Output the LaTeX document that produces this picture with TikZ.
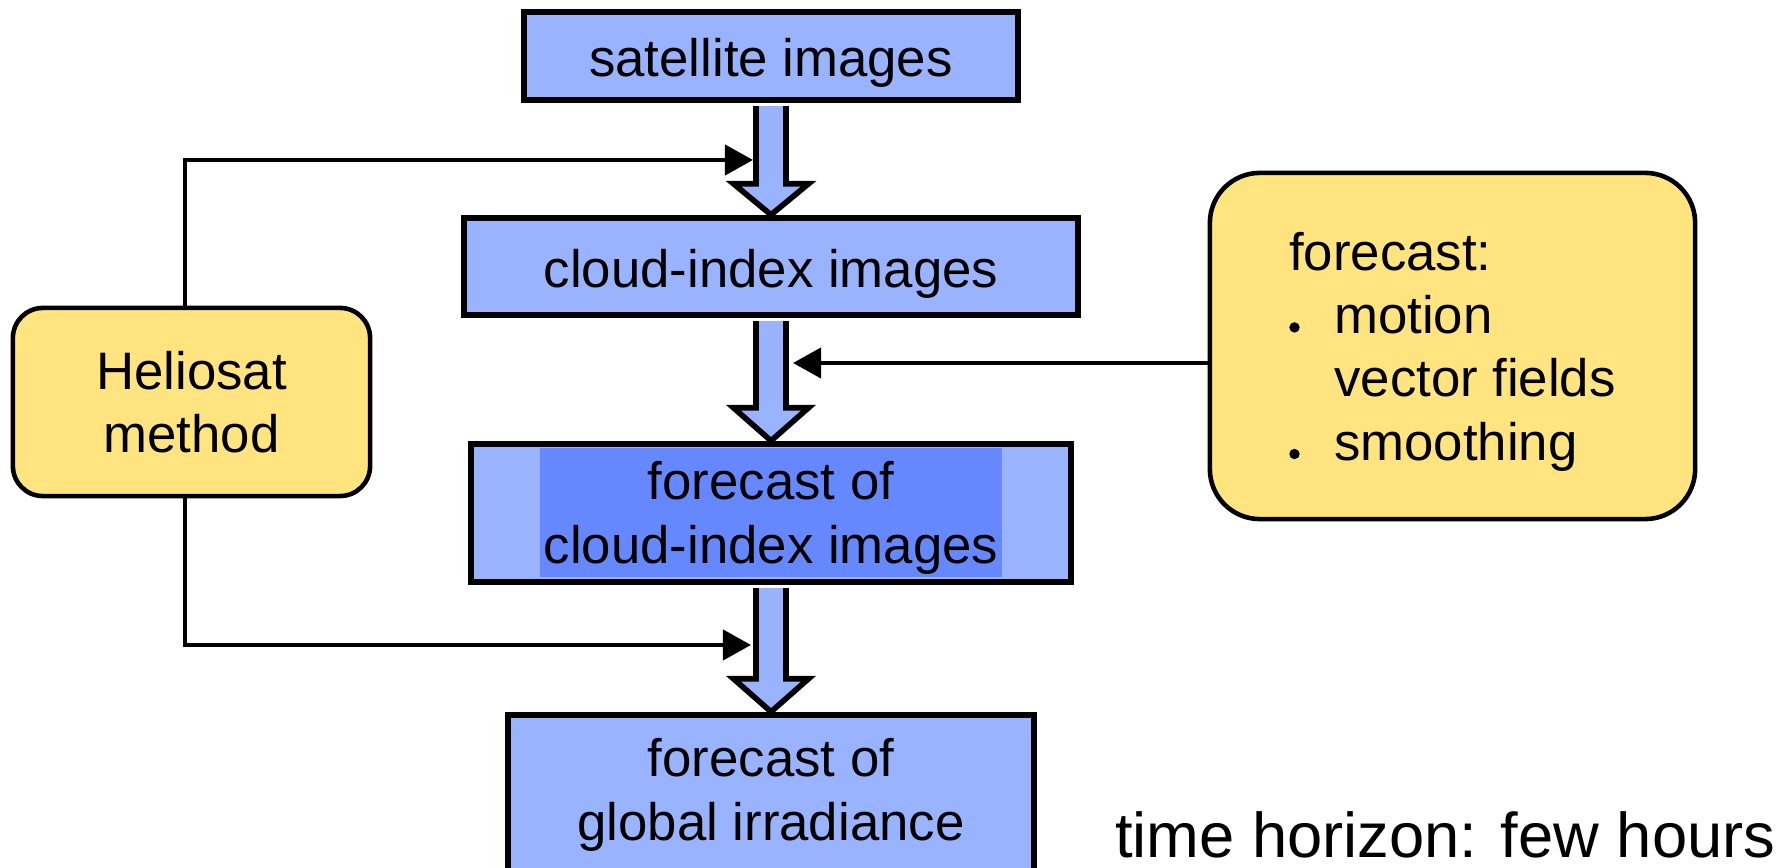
\documentclass[tikz,border=0pt]{standalone}
\usepackage{fontspec}
\setmainfont{Liberation Sans}
\usetikzlibrary{arrows.meta,calc}
\definecolor{boxblue}{HTML}{99B3FF}
\definecolor{darkblue}{HTML}{6688FF}
\definecolor{boxyellow}{HTML}{FFE480}
\newcommand{\dotbullet}{\makebox[12.8pt][l]{\tikz[baseline=0pt]\fill[black] (0.055cm,0.06cm) circle (0.052cm);}}
\begin{document}
\begin{tikzpicture}[x=0.01cm,y=-0.01cm,
  font=\fontsize{15}{18}\selectfont,
  bluebox/.style={draw=black, line width=1.8pt, fill=boxblue, inner sep=0pt},
  onetext/.style={text height=15pt, text depth=3.1pt},
  yellowbox/.style={draw=black, line width=1.3pt, fill=boxyellow, inner sep=0pt},
  blockarrow/.style={draw=black, line width=1.6pt, fill=boxblue, line join=miter},
  link/.style={draw=black, line width=1.2pt, -{Triangle[length=0.28cm,width=0.30cm]}},
]
\useasboundingbox (0,0) rectangle (1791,868);

% boxes
\node[bluebox,onetext,minimum width=4.94cm,minimum height=0.88cm] (sat) at (771,56) {satellite images};
\node[bluebox,onetext,minimum width=6.13cm,minimum height=0.97cm] (cloud) at (771,266.5) {cloud-index images};
\node[bluebox,minimum width=6.00cm,minimum height=1.38cm] (fcloud) at (771,513) {};
\node[fill=darkblue,inner sep=0pt,minimum width=4.62cm,minimum height=1.29cm,align=center,text depth=0pt] (fctext) at (771,512.5) {forecast of\\cloud-index images};
\node[bluebox,minimum width=5.26cm,minimum height=1.60cm,align=center] (irr) at (771,795) {forecast of\\global irradiance};
\node[yellowbox,rounded corners=0.3cm,minimum width=3.57cm,minimum height=1.88cm,align=center] (helio) at (191.5,402) {Heliosat\\method};
\node[yellowbox,rounded corners=0.5cm,minimum width=4.85cm,minimum height=3.46cm,align=left,text depth=0pt] (rbox) at (1452.5,346) {forecast:\\\dotbullet motion\\\hspace*{12.8pt}vector fields\\\dotbullet smoothing};
\node[anchor=base east,font=\fontsize{18}{21}\selectfont,inner sep=0pt] (horizon) at (1776,858) {time horizon: few hours};

% block arrows
\draw[blockarrow] ($(sat.south)+(-15,3)$) -- ($(cloud.north)+(-15,-31)$) -- ($(cloud.north)+(-37.5,-31)$) -- (cloud.north) -- ($(cloud.north)+(37.5,-31)$) -- ($(cloud.north)+(15,-31)$) -- ($(sat.south)+(15,3)$);
\draw[blockarrow] ($(cloud.south)+(-15,3)$) -- ($(fcloud.north)+(-15,-33)$) -- ($(fcloud.north)+(-37.5,-33)$) -- (fcloud.north) -- ($(fcloud.north)+(37.5,-33)$) -- ($(fcloud.north)+(15,-33)$) -- ($(cloud.south)+(15,3)$);
\draw[blockarrow] ($(fcloud.south)+(-15,3)$) -- ($(irr.north)+(-15,-33)$) -- ($(irr.north)+(-37.5,-33)$) -- (irr.north) -- ($(irr.north)+(37.5,-33)$) -- ($(irr.north)+(15,-33)$) -- ($(fcloud.south)+(15,3)$);

% connectors
\coordinate (t1) at (753,160);
\coordinate (t2) at (751,645);
\coordinate (t3) at (793,363);
\draw[link] ($(helio.north)+(-6.5,0)$) |- (t1);
\draw[link] ($(helio.south)+(-6.5,0)$) |- (t2);
\draw[link] (rbox.west |- t3) -- (t3);
\end{tikzpicture}
\end{document}
